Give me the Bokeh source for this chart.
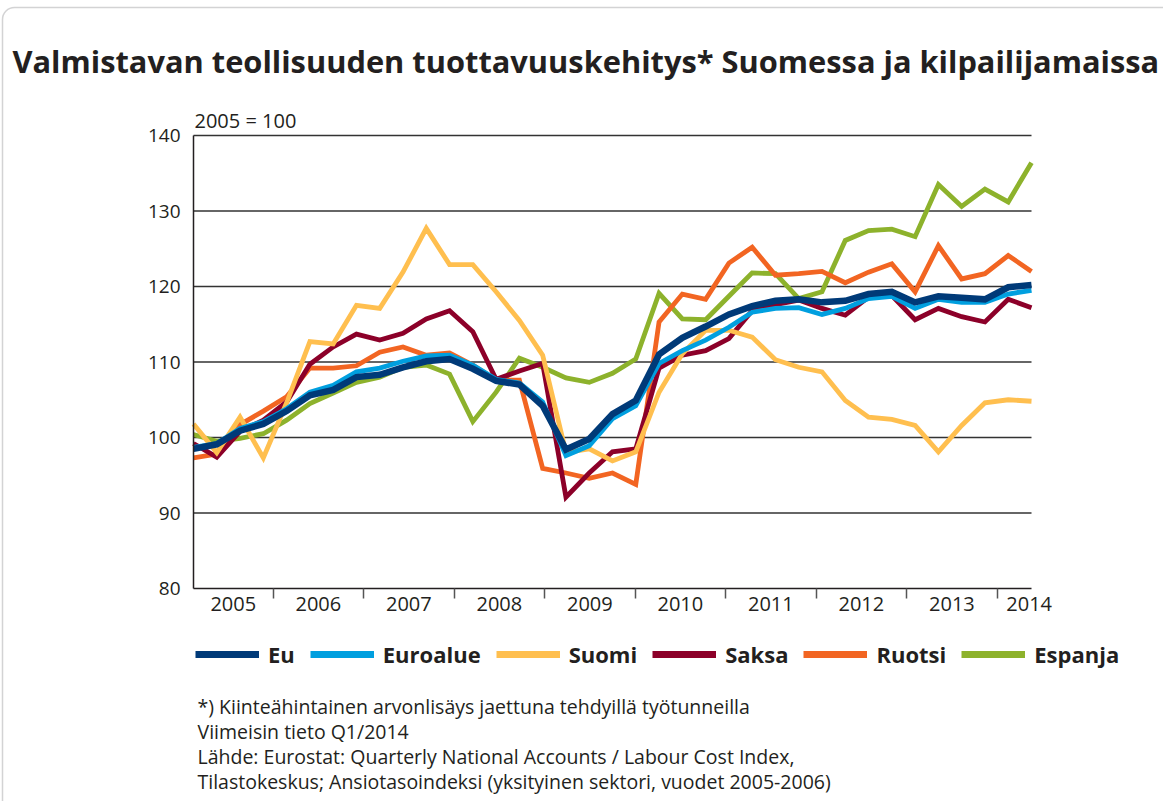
from bokeh.plotting import figure
from bokeh.models import (Range1d, FixedTicker, Label, Legend, LegendItem, BoxAnnotation,
                          ColumnDataSource, CustomJSTickFormatter)
from bokeh.embed import file_html
from bokeh.resources import INLINE

# ---- data: quarterly index 2005Q1 .. 2014Q1 (2005 = 100) ----
quarters = [f"{y}Q{q}" for y in range(2005, 2015) for q in range(1, 5)][:37]
years = [str(y) for y in range(2005, 2015)]

eu = [98.5, 99.1, 100.9, 101.8, 103.5, 105.6, 106.3, 108.0, 108.3, 109.3, 110.1, 110.4,
      109.1, 107.5, 107.0, 104.2, 98.4, 99.8, 103.1, 104.9, 111.0, 113.2, 114.7, 116.3,
      117.4, 118.1, 118.3, 117.9, 118.1, 119.0, 119.3, 117.9, 118.7, 118.5, 118.3, 119.9, 120.2]
euroalue = [98.7, 99.2, 101.2, 102.1, 103.8, 106.0, 106.9, 108.7, 109.2, 110.1, 110.8, 110.9,
            109.6, 107.7, 107.2, 104.7, 97.6, 98.9, 102.5, 104.2, 109.8, 111.5, 112.9, 114.6,
            116.6, 117.1, 117.2, 116.3, 117.1, 118.4, 118.7, 117.1, 118.3, 117.9, 117.9, 119.0, 119.5]
suomi = [101.8, 98.0, 102.7, 97.3, 104.6, 112.7, 112.4, 117.5, 117.1, 121.9, 127.7, 122.9,
         122.9, 119.3, 115.5, 110.9, 98.0, 98.5, 96.9, 98.1, 106.0, 111.1, 114.2, 114.2,
         113.3, 110.3, 109.3, 108.7, 104.9, 102.7, 102.4, 101.6, 98.1, 101.6, 104.6, 105.0, 104.8]
saksa = [99.2, 97.4, 100.8, 102.3, 104.7, 109.7, 112.0, 113.7, 112.9, 113.8, 115.7, 116.8,
         114.0, 107.7, 108.8, 109.8, 92.1, 95.3, 98.1, 98.5, 109.2, 110.9, 111.5, 113.1,
         116.8, 117.6, 118.2, 117.1, 116.2, 118.6, 118.8, 115.6, 117.1, 116.0, 115.3, 118.3, 117.2]
ruotsi = [97.3, 97.8, 101.7, 103.5, 105.4, 109.2, 109.2, 109.5, 111.3, 112.0, 110.9, 111.2,
          109.6, 107.6, 107.6, 95.9, 95.3, 94.6, 95.3, 93.8, 115.3, 119.0, 118.3, 123.1,
          125.2, 121.5, 121.7, 122.0, 120.5, 121.9, 123.0, 119.3, 125.4, 121.0, 121.7, 124.1, 122.0]
espanja = [100.4, 99.5, 99.9, 100.5, 102.3, 104.5, 105.9, 107.3, 108.0, 109.3, 109.6, 108.4,
           102.1, 106.0, 110.5, 109.3, 107.9, 107.3, 108.5, 110.4, 119.1, 115.7, 115.6, 118.7,
           121.8, 121.7, 118.4, 119.3, 126.1, 127.4, 127.6, 126.6, 133.5, 130.6, 132.9, 131.2, 136.4]

series_names = ["Eu", "Euroalue", "Suomi", "Saksa", "Ruotsi", "Espanja"]
series_values = [eu, euroalue, suomi, saksa, ruotsi, espanja]
series_colors = ["#003a78", "#009fdf", "#ffbf4f", "#8c0029", "#f26522", "#8db22c"]
series_widths = [6.5, 4.8, 4.8, 4.8, 4.8, 4.8]

y_ticks = [80, 90, 100, 110, 120, 130, 140]

title_text = "Valmistavan teollisuuden tuottavuuskehitys* Suomessa ja kilpailijamaissa"
base_text = "2005 = 100"
notes = ["*) Kiinteähintainen arvonlisäys jaettuna tehdyillä työtunneilla",
         "Viimeisin tieto Q1/2014",
         "Lähde: Eurostat: Quarterly National Accounts / Labour Cost Index,",
         "Tilastokeskus; Ansiotasoindeksi (yksityinen sektori, vuodet 2005-2006)"]

TEXT = "#231f20"
FONT = "Open Sans"

# ---- layout (canvas pixels) ----
W, H = 1163, 801
PL, PR, PT, PB = 193, 1031, 135, 588          # chart area inside the canvas
n_q = len(quarters) - 1
y_lo, y_hi = y_ticks[0], y_ticks[-1]
xu = (PR - PL) / n_q
yu = (PB - PT) / (y_hi - y_lo)

src = ColumnDataSource(dict(x=list(range(len(quarters))), q=quarters,
                            **{n: v for n, v in zip(series_names, series_values)}))

p = figure(width=W, height=H, output_backend="svg", toolbar_location=None,
           x_range=Range1d(-PL / xu, n_q + (W - PR) / xu),
           y_range=Range1d(y_lo - (H - PB) / yu, y_hi + PT / yu),
           min_border_left=0, min_border_right=0, min_border_top=0, min_border_bottom=0)
p.title.visible = False
p.outline_line_color = None
p.background_fill_color = "white"
p.border_fill_color = "white"
p.xgrid.visible = False
p.ygrid.visible = False

# horizontal grid lines across the chart area
grid_y = y_ticks[1:]
p.segment(x0=[0] * len(grid_y), x1=[n_q] * len(grid_y), y0=grid_y, y1=grid_y,
          line_color="#333333", line_width=1.3)

# y axis, drawn at x = first quarter
p.yaxis.fixed_location = 0
p.yaxis.bounds = (y_lo, y_hi)
p.yaxis.ticker = FixedTicker(ticks=y_ticks)
p.yaxis.major_tick_line_color = None
p.yaxis.minor_tick_line_color = None
p.yaxis.major_tick_out = 0
p.yaxis.major_tick_in = 0
p.yaxis.major_label_standoff = 13
p.yaxis.major_label_text_font = FONT
p.yaxis.major_label_text_font_size = "19px"
p.yaxis.major_label_text_color = TEXT
p.yaxis.axis_line_color = "#231f20"
p.yaxis.axis_line_width = 1.5

# x axis, drawn at y = 80: year separators (minor ticks) and year labels
sep_pos = [3.42 + 3.888 * k for k in range(len(years) - 1)]
label_pos = [sep_pos[0] / 2] + [(a + b) / 2 for a, b in zip(sep_pos[:-1], sep_pos[1:])] + [35.9]
p.xaxis.fixed_location = y_lo
p.xaxis.bounds = (0, n_q)
p.xaxis.ticker = FixedTicker(ticks=label_pos, minor_ticks=sep_pos)
p.xaxis.formatter = CustomJSTickFormatter(args=dict(years=years), code="return years[index];")
p.xaxis.major_tick_line_color = None
p.xaxis.major_tick_out = 0
p.xaxis.major_tick_in = 0
p.xaxis.minor_tick_out = 10
p.xaxis.minor_tick_in = 0
p.xaxis.minor_tick_line_color = "#555555"
p.xaxis.minor_tick_line_width = 1.5
p.xaxis.major_label_standoff = -2
p.xaxis.major_label_text_font = FONT
p.xaxis.major_label_text_font_size = "20px"
p.xaxis.major_label_text_color = TEXT
p.xaxis.axis_line_color = "#231f20"
p.xaxis.axis_line_width = 1.5

# series (drawn bottom -> top)
for n, c, w in reversed(list(zip(series_names, series_colors, series_widths))):
    p.line(x="x", y=n, source=src, line_color=c, line_width=w, line_join="miter")

# legend: hidden copies of the series give thick sample lines
items = []
for n, c in zip(series_names, series_colors):
    r = p.line(x="x", y=n, source=src, line_color=c, line_width=7, visible=False)
    items.append(LegendItem(label=n, renderers=[r]))
legend = Legend(items=items, orientation="horizontal", location=(195, H - 643 - 26),
                glyph_width=64, glyph_height=26, label_height=26, label_standoff=9,
                spacing=15, padding=0, margin=0, border_line_color=None,
                background_fill_alpha=0, label_text_font=FONT, label_text_font_style="bold",
                label_text_font_size="22px", label_text_color=TEXT)
p.add_layout(legend, "center")


def put_text(text, x, center_y, size, bold=False):
    p.add_layout(Label(x=x, y=H - center_y, x_units="screen", y_units="screen", text=text,
                       text_font=FONT, text_font_size=size,
                       text_font_style="bold" if bold else "normal",
                       text_color=TEXT, text_baseline="middle"))


put_text(title_text, 12, 60, "30.8px", bold=True)
put_text(base_text, 194, 120, "20px")
for i, t in enumerate(notes):
    put_text(t, 197, 706 + 25 * i, "19.5px")

# rounded outer frame (only top and left edges fall inside the picture)
p.add_layout(BoxAnnotation(left=2, right=W + 200, top=H - 7, bottom=-200,
                           left_units="screen", right_units="screen",
                           top_units="screen", bottom_units="screen",
                           fill_alpha=0, line_color="#6d6e71", line_width=1.5,
                           border_radius=12))

open("out.html", "w").write(file_html(p, INLINE))
